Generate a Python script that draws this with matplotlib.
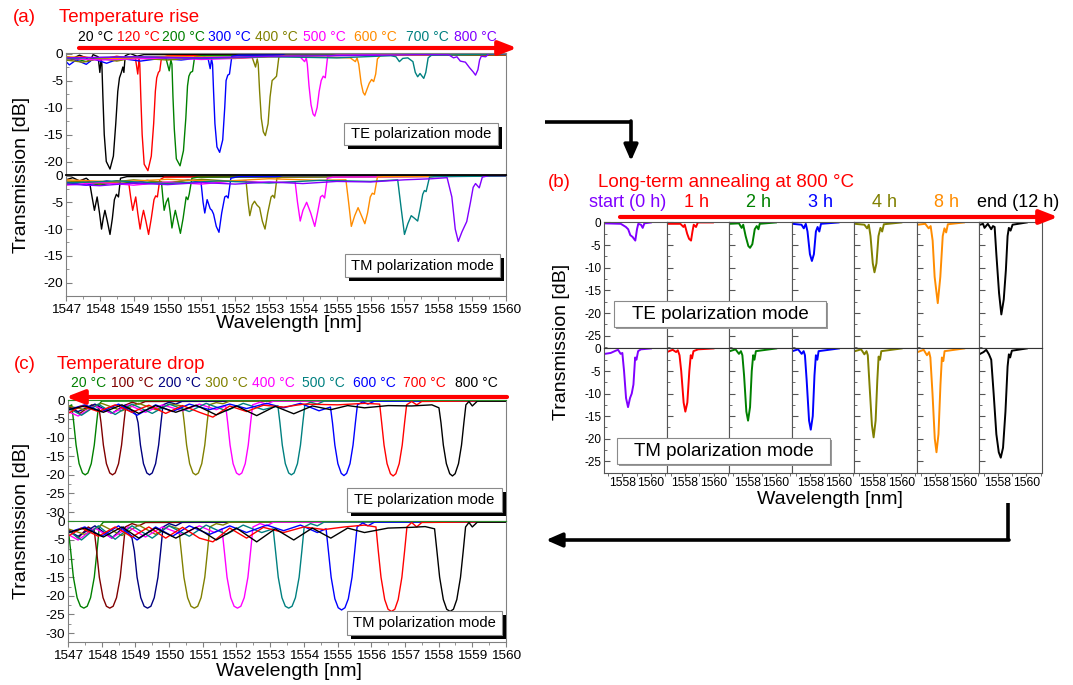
import matplotlib
matplotlib.use('Agg')
import matplotlib.pyplot as plt
from matplotlib.patches import Rectangle
from matplotlib.ticker import MultipleLocator, FormatStrFormatter

plt.rcParams['font.family'] = ['Liberation Sans', 'DejaVu Sans']
plt.rcParams['axes.unicode_minus'] = False

W, H = 1073, 685

# ---------------- (a) temperature rise ----------------
rise_labels = ['20 °C', '120 °C', '200 °C', '300 °C', '400 °C', '500 °C', '600 °C', '700 °C', '800 °C']
rise_colors = ['black', '#ff0000', '#008000', '#0000ff', '#808000', '#ff00ff', '#ff8c00', '#008080', '#8000ff']
# (wavelength nm, transmission dB)
rise_te = [
    [(1547.0, -0.5), (1547.2, -0.9), (1547.4, -0.3), (1547.6, -0.8), (1547.7, -1.5), (1547.8, -0.2), (1547.95, -0.6),
     (1548.00, -3.5), (1548.04, -0.8), (1548.06, -2), (1548.09, -8), (1548.13, -15), (1548.19, -20), (1548.30, -21.4),
     (1548.40, -19), (1548.47, -13), (1548.53, -7), (1548.58, -4.5), (1548.63, -3.6), (1548.68, -2.5), (1548.71, -3.5),
     (1548.75, -0.4), (1548.9, 0.0), (1549.1, -0.5), (1549.3, -0.2), (1560.0, -0.1)],
    [(1547.0, -1.0), (1547.5, -0.6), (1548.0, -1.1), (1548.5, -0.5), (1548.9, -0.9), (1549.05, -0.8), (1549.12, -3.8),
     (1549.16, -1.0), (1549.18, -2), (1549.21, -8), (1549.25, -15), (1549.31, -20.5), (1549.42, -21.7), (1549.52, -19),
     (1549.59, -13), (1549.64, -7), (1549.68, -4.5), (1549.73, -3.5), (1549.77, -3.2), (1549.82, -0.8), (1550.0, -0.4),
     (1560.0, -0.3)],
    [(1547.0, -1.3), (1547.3, -1.0), (1547.6, -1.5), (1548.0, -0.8), (1548.5, -1.2), (1549.0, -0.7), (1549.5, -1.0),
     (1549.95, -0.8), (1550.05, -3.2), (1550.10, -1.2), (1550.13, -2), (1550.16, -8), (1550.20, -14), (1550.26, -19.5),
     (1550.37, -20.8), (1550.47, -18), (1550.54, -12), (1550.59, -6), (1550.63, -4.2), (1550.68, -3.5), (1550.74, -3.3),
     (1550.80, -0.6), (1551.0, -0.4), (1560.0, -0.2)],
    [(1547.0, -1.5), (1547.1, -2.1), (1547.3, -1.2), (1547.6, -2.0), (1547.8, -1.0), (1548.2, -1.8), (1548.6, -0.9),
     (1549.2, -1.4), (1549.8, -0.9), (1550.4, -1.2), (1551.1, -0.7), (1551.20, -1.0), (1551.26, -2.8), (1551.30, -1.0),
     (1551.33, -2), (1551.36, -7), (1551.40, -13), (1551.46, -17.3), (1551.54, -18.3), (1551.63, -16), (1551.69, -10),
     (1551.73, -5), (1551.78, -4), (1551.83, -3.8), (1551.90, -0.5), (1552.1, -0.3), (1560.0, -0.1)],
    [(1547.0, -1.2), (1547.5, -1.6), (1548.0, -0.9), (1548.5, -1.4), (1549.0, -0.8), (1550.0, -1.2), (1551.0, -0.7),
     (1552.0, -0.9), (1552.50, -0.7), (1552.60, -2.5), (1552.65, -1.0), (1552.68, -2), (1552.72, -7), (1552.77, -12),
     (1552.83, -14.5), (1552.89, -15.2), (1552.97, -13), (1553.03, -8), (1553.09, -5), (1553.16, -4.6), (1553.22, -4.2),
     (1553.29, -0.6), (1553.5, -0.3), (1560.0, -0.2)],
    [(1547.0, -0.9), (1548.0, -1.2), (1549.0, -1.0), (1550.0, -0.8), (1551.0, -1.1), (1552.0, -0.9), (1553.0, -0.6),
     (1553.9, -0.5), (1554.05, -1.5), (1554.10, -0.8), (1554.13, -2), (1554.18, -6), (1554.24, -9.5), (1554.30, -11.2),
     (1554.35, -11.6), (1554.42, -10), (1554.48, -7), (1554.54, -5), (1554.60, -4.2), (1554.66, -4.5), (1554.73, -0.5),
     (1555.0, -0.3), (1560.0, -0.1)],
    [(1547.0, -0.6), (1548.5, -0.9), (1550.0, -0.5), (1552.0, -0.8), (1553.5, -0.5), (1555.4, -0.8), (1555.55, -1.5),
     (1555.60, -0.8), (1555.65, -2), (1555.72, -5.5), (1555.78, -7.2), (1555.83, -7.7), (1555.90, -6.5), (1555.96, -5.5),
     (1556.03, -4.8), (1556.09, -5.2), (1556.15, -3.8), (1556.20, -1.0), (1556.30, -0.3), (1560.0, -0.1)],
    [(1547.0, -0.9), (1549.0, -0.6), (1551.0, -0.9), (1553.0, -0.6), (1555.0, -0.8), (1556.6, -0.4), (1556.75, -0.6),
     (1556.85, -1.5), (1556.95, -0.9), (1557.10, -0.8), (1557.25, -1.5), (1557.32, -3.5), (1557.39, -4.3), (1557.46, -3.7),
     (1557.52, -4.2), (1557.57, -4.6), (1557.63, -3.5), (1557.70, -0.8), (1557.8, -0.3), (1560.0, -0.1)],
    [(1547.0, -0.8), (1549.0, -0.6), (1551.0, -0.8), (1553.0, -0.5), (1555.0, -0.4), (1557.5, -0.2), (1558.3, -0.2),
     (1558.45, -0.8), (1558.55, -0.6), (1558.65, -1.4), (1558.80, -1.6), (1558.92, -2.6), (1559.03, -3.4), (1559.10, -4.0),
     (1559.17, -3.0), (1559.22, -1.2), (1559.27, -0.5), (1559.40, -0.6), (1559.5, 0.0), (1560.0, 0.0)],
]
rise_tm = [
    [(1547.0, -0.8), (1547.2, -0.4), (1547.4, -1.0), (1547.6, -0.5), (1547.69, -1.0), (1547.77, -4), (1547.84, -6.5),
     (1547.92, -4), (1547.99, -7), (1548.05, -10), (1548.10, -8), (1548.15, -6.5), (1548.22, -8.5), (1548.30, -11),
     (1548.37, -8), (1548.43, -4.5), (1548.49, -3.5), (1548.55, -4), (1548.61, -0.5), (1548.8, -0.2), (1560.0, 0.0)],
    [(1547.0, -1.5), (1547.5, -0.9), (1548.0, -1.6), (1548.5, -1.0), (1548.85, -1.2), (1548.91, -4), (1548.97, -6.5),
     (1549.06, -4), (1549.12, -7), (1549.19, -10), (1549.24, -8), (1549.29, -6.5), (1549.36, -8.5), (1549.44, -11),
     (1549.52, -8), (1549.60, -4.5), (1549.65, -3.8), (1549.70, -4), (1549.77, -0.8), (1549.9, -0.3), (1560.0, -0.1)],
    [(1547.0, -1.7), (1547.5, -1.2), (1548.0, -1.8), (1548.6, -1.1), (1549.2, -1.6), (1549.82, -1.2), (1549.86, -4),
     (1549.90, -6.5), (1549.96, -5), (1550.02, -4.2), (1550.08, -7), (1550.13, -9.8), (1550.18, -8), (1550.23, -6.5),
     (1550.30, -8.5), (1550.38, -10.8), (1550.46, -8), (1550.55, -4), (1550.60, -4.5), (1550.64, -3.5), (1550.72, -0.5),
     (1550.9, -0.3), (1560.0, -0.1)],
    [(1547.0, -1.2), (1547.6, -1.8), (1548.2, -1.0), (1548.8, -1.6), (1549.4, -0.9), (1550.0, -1.5), (1550.6, -0.8),
     (1550.99, -1.3), (1551.05, -5), (1551.10, -7), (1551.17, -4.5), (1551.26, -6.2), (1551.31, -6.5), (1551.36, -7.2),
     (1551.44, -9.5), (1551.52, -10.6), (1551.60, -7), (1551.69, -4), (1551.74, -3.8), (1551.79, -4.2), (1551.87, -0.5),
     (1552.1, -0.2), (1560.0, -0.1)],
    [(1547.0, -1.0), (1548.0, -1.5), (1549.0, -0.8), (1550.0, -1.3), (1551.0, -0.7), (1552.0, -1.1), (1552.32, -1.0),
     (1552.38, -5), (1552.43, -7.5), (1552.50, -5.5), (1552.57, -4.8), (1552.64, -5.5), (1552.72, -6), (1552.80, -8.5),
     (1552.88, -10), (1552.96, -7), (1553.06, -4), (1553.11, -3.7), (1553.16, -4.2), (1553.23, -0.5), (1553.4, -0.3),
     (1560.0, -0.1)],
    [(1547.0, -1.8), (1548.0, -1.3), (1549.0, -1.8), (1550.0, -1.2), (1551.0, -1.6), (1552.0, -1.0), (1553.0, -1.3),
     (1553.77, -1.2), (1553.84, -5), (1553.92, -8.5), (1554.00, -6.5), (1554.11, -5), (1554.23, -7), (1554.35, -9.5),
     (1554.43, -7), (1554.52, -4), (1554.58, -3.7), (1554.64, -4.2), (1554.72, -0.5), (1554.9, -0.3), (1560.0, -0.1)],
    [(1547.0, -0.8), (1548.5, -1.2), (1550.0, -0.7), (1551.5, -1.1), (1553.0, -0.6), (1554.5, -0.9), (1555.27, -0.8),
     (1555.35, -5), (1555.43, -9.5), (1555.53, -7.5), (1555.63, -6), (1555.73, -7.5), (1555.83, -9), (1555.91, -7),
     (1555.99, -4), (1556.05, -3.3), (1556.11, -3.5), (1556.20, -0.3), (1556.4, -0.2), (1560.0, -0.1)],
    [(1547.0, -1.4), (1548.5, -1.0), (1550.0, -1.5), (1551.5, -1.0), (1553.0, -1.4), (1554.5, -0.9), (1556.0, -1.1),
     (1556.80, -0.8), (1556.90, -6), (1557.00, -11), (1557.10, -9), (1557.20, -7.5), (1557.30, -8), (1557.39, -8.5),
     (1557.47, -6), (1557.54, -3.5), (1557.59, -2.8), (1557.64, -3), (1557.74, -0.3), (1557.9, -0.2), (1560.0, -0.1)],
    [(1547.0, -1.6), (1548.0, -1.9), (1549.0, -1.4), (1550.0, -1.7), (1551.0, -1.3), (1552.0, -1.6), (1553.0, -1.2),
     (1554.0, -1.5), (1555.0, -1.1), (1556.0, -1.2), (1557.0, -0.8), (1557.8, -0.6), (1558.26, -0.4), (1558.40, -4),
     (1558.50, -10), (1558.59, -12.3), (1558.70, -10.5), (1558.84, -8.6), (1558.95, -5), (1559.03, -2.2), (1559.10, -1.5),
     (1559.21, -2.3), (1559.30, -0.3), (1559.5, 0.0), (1560.0, 0.0)],
]

# ---------------- (b) long-term annealing at 800 C ----------------
anneal_labels = ['start (0 h)', '1 h', '2 h', '3 h', '4 h', '8 h', 'end (12 h)']
anneal_colors = ['#8000ff', '#ff0000', '#008000', '#0000ff', '#808000', '#ff8c00', 'black']
anneal_te = [
    [(1556.75, -0.2), (1557.88, -0.3), (1558.24, -1.0), (1558.40, -1.5), (1558.55, -2.8), (1558.71, -3.2),
     (1558.90, -4.0), (1559.02, -1.5), (1559.11, -0.3), (1559.30, -0.5), (1559.42, -1.2), (1559.54, -0.2), (1560.00, 0.0)],
    [(1556.72, -0.3), (1557.67, -0.3), (1557.89, -1.0), (1557.98, -0.5), (1558.15, -2.5), (1558.28, -3.6),
     (1558.42, -4.0), (1558.52, -2.0), (1558.61, -0.5), (1558.77, -1.0), (1558.90, 0.0), (1559.96, 0.0)],
    [(1556.75, -0.3), (1557.39, -0.2), (1557.58, -1.2), (1557.69, -0.5), (1557.86, -3.0), (1558.05, -5.2),
     (1558.17, -5.6), (1558.33, -4.8), (1558.50, -1.5), (1558.64, -0.8), (1558.76, -1.5), (1558.85, -0.3), (1559.99, 0.0)],
    [(1556.75, -0.3), (1557.39, -0.5), (1557.55, -1.3), (1557.69, -0.3), (1557.81, -2.0), (1557.98, -7.0),
     (1558.12, -8.5), (1558.26, -7.0), (1558.40, -2.0), (1558.52, -1.0), (1558.64, -2.0), (1558.76, -0.3), (1559.99, 0.0)],
    [(1556.75, -0.3), (1557.41, -0.5), (1557.60, -1.3), (1557.72, -0.5), (1557.84, -3.0), (1558.00, -9.0),
     (1558.12, -11.0), (1558.26, -9.0), (1558.40, -3.0), (1558.54, -1.2), (1558.66, -2.0), (1558.78, -0.4), (1560.01, 0.0)],
    [(1556.75, -0.5), (1557.29, -0.3), (1557.53, -1.3), (1557.67, -0.8), (1557.81, -4.0), (1557.95, -12.0),
     (1558.17, -17.8), (1558.35, -12.0), (1558.52, -3.0), (1558.64, -1.3), (1558.76, -2.2), (1558.88, -0.4), (1560.01, 0.0)],
    [(1556.75, -0.5), (1556.95, -0.3), (1557.06, -1.2), (1557.29, -0.3), (1557.53, -1.5), (1557.65, -0.8),
     (1557.77, -1.0), (1557.89, -7.0), (1558.08, -15.6), (1558.24, -20.3), (1558.41, -17.0), (1558.56, -10.5),
     (1558.68, -3.0), (1558.77, -1.2), (1558.89, -1.8), (1559.03, -0.5), (1560.03, 0.0)],
]
anneal_tm = [
    [(1556.75, -1.2), (1557.17, -1.0), (1557.52, -0.5), (1557.69, -0.3), (1557.87, -1.2), (1557.99, -1.0),
     (1558.11, -5.0), (1558.25, -11.0), (1558.39, -13.0), (1558.53, -11.0), (1558.65, -10.0), (1558.77, -8.0),
     (1558.89, -2.0), (1558.98, -2.5), (1559.10, -0.6), (1559.29, -0.2), (1560.00, 0.0)],
    [(1556.72, -0.8), (1557.13, -0.3), (1557.37, -0.8), (1557.49, -0.4), (1557.61, -1.5), (1557.73, -5.0),
     (1557.90, -12.0), (1558.02, -14.0), (1558.16, -12.0), (1558.30, -5.0), (1558.40, -1.5), (1558.49, -2.2),
     (1558.59, -0.6), (1558.92, -0.2), (1560.00, 0.0)],
    [(1556.75, -0.6), (1557.15, -0.2), (1557.39, -1.2), (1557.53, -0.6), (1557.63, -1.5), (1557.75, -6.0),
     (1557.91, -14.0), (1558.03, -16.0), (1558.17, -13.0), (1558.29, -5.0), (1558.39, -1.5), (1558.48, -2.5),
     (1558.58, -0.6), (1560.01, 0.0)],
    [(1556.75, -0.6), (1557.15, -0.2), (1557.40, -1.2), (1557.54, -0.6), (1557.63, -1.5), (1557.75, -7.0),
     (1557.92, -16.0), (1558.04, -18.0), (1558.18, -15.0), (1558.30, -6.0), (1558.40, -1.5), (1558.50, -2.5),
     (1558.59, -0.6), (1560.02, 0.0)],
    [(1556.75, -0.6), (1557.18, -0.2), (1557.41, -1.3), (1557.56, -0.6), (1557.65, -1.5), (1557.77, -8.0),
     (1557.94, -17.0), (1558.06, -19.7), (1558.20, -16.0), (1558.32, -7.0), (1558.41, -1.8), (1558.51, -2.5),
     (1558.60, -0.6), (1560.03, 0.0)],
    [(1556.75, -0.8), (1557.18, -0.3), (1557.41, -1.5), (1557.56, -0.8), (1557.65, -2.0), (1557.80, -10.0),
     (1557.96, -20.0), (1558.08, -23.0), (1558.22, -19.0), (1558.36, -8.0), (1558.46, -2.0), (1558.56, -2.8),
     (1558.65, -0.6), (1560.03, 0.0)],
    [(1556.75, -1.2), (1556.99, -0.8), (1557.18, -0.3), (1557.37, -1.3), (1557.53, -2.5), (1557.70, -10.0),
     (1557.89, -19.0), (1558.06, -23.0), (1558.20, -24.2), (1558.36, -22.0), (1558.53, -14.0), (1558.68, -4.0),
     (1558.77, -1.3), (1558.86, -2.0), (1558.98, -0.5), (1560.03, 0.0)],
]

# ---------------- (c) temperature drop ----------------
drop_labels = ['20 °C', '100 °C', '200 °C', '300 °C', '400 °C', '500 °C', '600 °C', '700 °C', '800 °C']
drop_colors = ['#008000', '#800000', '#000080', '#808000', '#ff00ff', '#008080', '#0000ff', '#ff0000', 'black']
drop_te = [
    [(1547.0, -2.5), (1547.05, -1.5), (1547.11, -1.2), (1547.17, -6), (1547.24, -12), (1547.33, -17), (1547.43, -19.5),
     (1547.51, -20), (1547.59, -19.5), (1547.69, -17), (1547.78, -12), (1547.85, -6), (1547.91, -1.2), (1548.0, -0.2),
     (1560.0, 0.0)],
    [(1547.0, -1.5), (1547.35, -3.5), (1547.7, -1.2), (1547.92, -2.0), (1547.98, -6), (1548.05, -12), (1548.14, -17),
     (1548.24, -19.5), (1548.32, -20), (1548.40, -19.5), (1548.50, -17), (1548.59, -12), (1548.66, -6), (1548.72, -1.2),
     (1548.9, -0.5), (1549.1, -1.0), (1549.3, -0.3), (1560.0, -0.1)],
    [(1547.0, -2.0), (1547.3, -3.0), (1547.8, -1.0), (1548.3, -3.5), (1548.7, -1.2), (1549.02, -3.8), (1549.08, -6),
     (1549.15, -12), (1549.24, -17), (1549.34, -19.5), (1549.42, -20), (1549.50, -19.5), (1549.60, -17), (1549.69, -12),
     (1549.76, -6), (1549.82, -1.2), (1550.0, -0.5), (1550.2, -1.0), (1550.4, -0.2), (1560.0, -0.1)],
    [(1547.0, -1.5), (1547.5, -2.5), (1548.0, -0.8), (1548.6, -2.8), (1549.1, -0.8), (1549.6, -2.5), (1550.05, -1.0),
     (1550.39, -1.5), (1550.45, -6), (1550.52, -12), (1550.61, -17), (1550.71, -19.5), (1550.79, -20), (1550.87, -19.5),
     (1550.97, -17), (1551.06, -12), (1551.13, -6), (1551.19, -1.2), (1551.4, -0.6), (1551.6, -0.9), (1551.8, -0.2),
     (1560.0, -0.1)],
    [(1547.0, -3.0), (1547.3, -4.2), (1547.8, -1.5), (1548.3, -3.5), (1548.8, -1.2), (1549.3, -3.2), (1549.8, -1.2),
     (1550.4, -2.8), (1550.9, -1.0), (1551.4, -2.5), (1551.68, -1.5), (1551.74, -6), (1551.81, -12), (1551.90, -17),
     (1552.00, -19.5), (1552.08, -20), (1552.16, -19.5), (1552.26, -17), (1552.35, -12), (1552.42, -6), (1552.48, -1.2),
     (1552.7, -0.5), (1552.9, -1.0), (1553.1, -0.2), (1560.0, -0.1)],
    [(1547.0, -2.0), (1547.4, -4.0), (1547.9, -1.0), (1548.4, -3.8), (1548.9, -1.0), (1549.5, -3.5), (1550.0, -1.0),
     (1550.6, -3.0), (1551.1, -0.8), (1551.7, -2.8), (1552.2, -0.8), (1552.8, -2.5), (1553.23, -1.5), (1553.29, -6),
     (1553.36, -12), (1553.45, -17), (1553.55, -19.5), (1553.63, -20), (1553.71, -19.5), (1553.81, -17), (1553.90, -12),
     (1553.97, -6), (1554.03, -1.2), (1554.2, -0.5), (1554.4, -1.0), (1554.6, -0.2), (1560.0, -0.1)],
    [(1547.0, -2.5), (1547.5, -1.2), (1548.0, -3.0), (1548.5, -1.0), (1549.05, -4.0), (1549.6, -1.2), (1550.1, -3.0),
     (1550.6, -1.0), (1551.2, -2.5), (1551.8, -1.0), (1552.3, -2.2), (1552.9, -0.8), (1553.4, -2.0), (1553.9, -0.8),
     (1554.45, -2.8), (1554.79, -1.8), (1554.85, -6), (1554.92, -12), (1555.01, -17), (1555.11, -19.6), (1555.19, -20.2),
     (1555.27, -19.6), (1555.37, -17), (1555.46, -12), (1555.53, -6), (1555.59, -1.2), (1555.75, -0.4), (1555.9, -1.0),
     (1556.1, -0.2), (1560.0, -0.1)],
    [(1547.0, -3.5), (1547.4, -1.5), (1547.9, -3.0), (1548.4, -1.2), (1548.9, -3.2), (1549.4, -1.3), (1549.9, -3.5),
     (1550.4, -1.4), (1550.9, -3.2), (1551.3, -4.5), (1551.8, -1.5), (1552.3, -3.0), (1552.8, -1.3), (1553.4, -1.8),
     (1554.0, -1.0), (1555.0, -1.2), (1555.8, -0.8), (1556.25, -1.0), (1556.31, -6), (1556.38, -12), (1556.47, -17),
     (1556.57, -19.7), (1556.65, -20.3), (1556.73, -19.7), (1556.83, -17), (1556.92, -12), (1556.99, -6), (1557.05, -1.2),
     (1557.2, -0.3), (1557.35, -1.2), (1557.5, -0.3), (1560.0, -0.1)],
    [(1547.0, -2.5), (1547.5, -1.5), (1548.05, -3.2), (1548.6, -1.2), (1549.1, -3.5), (1549.6, -1.4), (1550.2, -3.2),
     (1550.8, -1.3), (1551.4, -3.9), (1552.0, -1.5), (1552.6, -4.1), (1553.15, -1.6), (1553.7, -3.6), (1554.25, -1.5),
     (1554.8, -2.5), (1555.3, -1.4), (1555.8, -2.0), (1556.5, -1.4), (1557.2, -1.5), (1557.8, -1.2), (1558.01, -2.0),
     (1558.07, -6), (1558.14, -12), (1558.23, -17), (1558.33, -19.7), (1558.41, -20.3), (1558.49, -19.7), (1558.59, -17),
     (1558.68, -12), (1558.75, -6), (1558.81, -1.2), (1558.9, -0.3), (1559.0, -1.5), (1559.15, -0.2), (1560.0, -0.2)],
]
drop_tm = [
    [(1547.0, -1.5), (1547.08, -8), (1547.16, -15), (1547.27, -20.5), (1547.37, -22.8), (1547.47, -23.3),
     (1547.57, -22.8), (1547.67, -20.5), (1547.78, -15), (1547.86, -8), (1547.93, -1.5), (1548.05, -0.2), (1560.0, 0.0)],
    [(1547.0, -2.0), (1547.3, -4.5), (1547.6, -1.5), (1547.78, -2.5), (1547.85, -8), (1547.93, -15), (1548.04, -20.5),
     (1548.14, -22.8), (1548.24, -23.3), (1548.34, -22.8), (1548.44, -20.5), (1548.55, -15), (1548.63, -8), (1548.70, -1.5),
     (1548.9, -0.6), (1549.1, -1.2), (1549.3, -0.3), (1560.0, -0.1)],
    [(1547.0, -2.5), (1547.3, -4.0), (1547.8, -1.2), (1548.3, -4.5), (1548.65, -1.5), (1548.90, -4.5), (1548.97, -8),
     (1549.05, -15), (1549.16, -20.5), (1549.26, -22.8), (1549.36, -23.3), (1549.46, -22.8), (1549.56, -20.5),
     (1549.67, -15), (1549.75, -8), (1549.82, -1.5), (1550.0, -0.6), (1550.2, -1.2), (1550.4, -0.2), (1560.0, -0.1)],
    [(1547.0, -2.0), (1547.5, -3.5), (1548.0, -1.0), (1548.6, -3.8), (1549.1, -1.0), (1549.6, -3.5), (1550.0, -1.2),
     (1550.29, -2.0), (1550.36, -8), (1550.44, -15), (1550.55, -20.5), (1550.65, -22.8), (1550.75, -23.3),
     (1550.85, -22.8), (1550.95, -20.5), (1551.06, -15), (1551.14, -8), (1551.21, -1.5), (1551.4, -0.6), (1551.6, -1.0),
     (1551.8, -0.2), (1560.0, -0.1)],
    [(1547.0, -3.5), (1547.3, -5.0), (1547.8, -1.8), (1548.3, -4.5), (1548.8, -1.5), (1549.3, -4.2), (1549.8, -1.5),
     (1550.4, -3.5), (1550.9, -1.2), (1551.35, -3.0), (1551.57, -2.0), (1551.64, -8), (1551.72, -15), (1551.83, -20.5),
     (1551.93, -22.8), (1552.03, -23.3), (1552.13, -22.8), (1552.23, -20.5), (1552.34, -15), (1552.42, -8),
     (1552.49, -1.5), (1552.7, -0.6), (1552.9, -1.2), (1553.1, -0.2), (1560.0, -0.1)],
    [(1547.0, -2.5), (1547.4, -5.0), (1547.9, -1.2), (1548.4, -4.8), (1548.9, -1.2), (1549.5, -4.5), (1550.0, -1.2),
     (1550.6, -4.0), (1551.1, -1.0), (1551.7, -3.5), (1552.2, -1.0), (1552.75, -3.0), (1553.09, -2.0), (1553.16, -8),
     (1553.24, -15), (1553.35, -20.5), (1553.45, -22.8), (1553.55, -23.3), (1553.65, -22.8), (1553.75, -20.5),
     (1553.86, -15), (1553.94, -8), (1554.01, -1.5), (1554.2, -0.6), (1554.4, -1.2), (1554.6, -0.2), (1560.0, -0.1)],
    [(1547.0, -3.0), (1547.5, -1.5), (1548.0, -4.0), (1548.5, -1.2), (1549.05, -5.0), (1549.6, -1.5), (1550.1, -4.0),
     (1550.6, -1.2), (1551.2, -3.5), (1551.8, -1.2), (1552.3, -3.0), (1552.9, -1.0), (1553.4, -2.5), (1553.9, -1.0),
     (1554.4, -3.0), (1554.66, -2.0), (1554.73, -8), (1554.81, -15), (1554.92, -20.8), (1555.02, -23.2), (1555.12, -23.8),
     (1555.22, -23.2), (1555.32, -20.8), (1555.43, -15), (1555.51, -8), (1555.58, -1.5), (1555.75, -0.4), (1555.9, -1.2),
     (1556.1, -0.2), (1560.0, -0.1)],
    [(1547.0, -4.0), (1547.4, -1.8), (1547.9, -4.0), (1548.4, -1.5), (1548.9, -4.2), (1549.4, -1.5), (1549.9, -4.5),
     (1550.4, -1.6), (1550.9, -4.5), (1551.3, -5.5), (1551.8, -1.8), (1552.3, -4.5), (1552.8, -1.6), (1553.4, -3.0),
     (1554.0, -1.5), (1554.6, -2.2), (1555.2, -1.5), (1555.8, -1.0), (1556.14, -1.5), (1556.21, -8), (1556.29, -15),
     (1556.40, -21), (1556.50, -23.6), (1556.60, -24.2), (1556.70, -23.6), (1556.80, -21), (1556.91, -15), (1556.99, -8),
     (1557.06, -1.5), (1557.2, -0.3), (1557.35, -1.5), (1557.5, -0.3), (1560.0, -0.1)],
    [(1547.0, -3.0), (1547.5, -1.8), (1548.05, -4.2), (1548.6, -1.5), (1549.1, -4.5), (1549.6, -1.8), (1550.2, -4.5),
     (1550.8, -1.6), (1551.4, -5.0), (1552.0, -1.8), (1552.6, -5.5), (1553.15, -2.0), (1553.7, -5.0), (1554.25, -1.8),
     (1554.8, -4.5), (1555.3, -1.8), (1555.8, -3.0), (1556.5, -1.8), (1557.2, -1.6), (1557.6, -1.4), (1557.88, -2.0),
     (1557.95, -8), (1558.03, -15), (1558.14, -21), (1558.24, -23.6), (1558.34, -24.2), (1558.44, -23.6), (1558.54, -21),
     (1558.65, -15), (1558.73, -8), (1558.80, -1.5), (1558.9, -0.3), (1559.0, -1.5), (1559.15, -0.2), (1560.0, -0.2)],
]

# ---------------- layout helpers (pixel coordinates) ----------------
fig = plt.figure(figsize=(W / 100, H / 100), dpi=100)
EDGE = '#808080'


def px_axes(x0, y0, x1, y1):
    return fig.add_axes([x0 / W, 1 - y1 / H, (x1 - x0) / W, (y1 - y0) / H])


def draw(ax, pts, color, lw=1.0):
    xs, ys = zip(*pts)
    ax.plot(xs, ys, color=color, lw=lw)


def style(ax, xlim, ylim, xmaj, ylab=True, xlab=True, ysize=9.7, xsize=9.7, xpad=2, edge=EDGE):
    ax.set_xlim(*xlim)
    ax.set_ylim(*ylim)
    for s in ax.spines.values():
        s.set_color(edge)
    ax.yaxis.set_major_locator(MultipleLocator(5))
    ax.yaxis.set_minor_locator(MultipleLocator(2.5))
    ax.yaxis.set_major_formatter(FormatStrFormatter('%d'))
    ax.tick_params(axis='y', which='major', direction='in', length=4, color=edge,
                   labelsize=ysize, pad=2, labelleft=ylab)
    ax.tick_params(axis='y', which='minor', direction='in', length=2, color=edge)
    if xlab:
        ax.xaxis.set_major_locator(MultipleLocator(xmaj))
        ax.xaxis.set_minor_locator(MultipleLocator(xmaj / 2))
        ax.xaxis.set_major_formatter(FormatStrFormatter('%d'))
        ax.tick_params(axis='x', which='major', direction='out', length=3.5, color=edge,
                       labelsize=xsize, pad=xpad)
        ax.tick_params(axis='x', which='minor', direction='out', length=2, color=edge)
    else:
        ax.set_xticks([])


# ---------------- panel (a) ----------------
a_te = px_axes(66, 53, 506, 175)
a_tm = px_axes(66, 175, 506, 296)
for pts, c in zip(rise_te, rise_colors):
    draw(a_te, pts, c)
for pts, c in zip(rise_tm, rise_colors):
    draw(a_tm, pts, c)
style(a_te, (1547, 1560), (-22.5, 0.1), 1, xlab=False)
style(a_tm, (1547, 1560), (-22.5, 0.1), 1)
a_tm.spines['top'].set_color('black')
a_tm.spines['top'].set_linewidth(1.3)

# ---------------- panel (c) ----------------
c_te = px_axes(68, 400, 506, 521)
c_tm = px_axes(68, 521, 506, 642)
for pts, c in zip(drop_te, drop_colors):
    draw(c_te, pts, c)
for pts, c in zip(drop_tm, drop_colors):
    draw(c_tm, pts, c)
style(c_te, (1547, 1560), (-32.4, 0.1), 1, xlab=False)
style(c_tm, (1547, 1560), (-32.4, 0.1), 1)
c_te.spines['top'].set_color('#2a8a2a')
c_tm.spines['top'].set_color('#2a8a2a')

# ---------------- panel (b) ----------------
col_w = (1042 - 604) / 7
for k in range(7):
    x0 = 604 + k * col_w
    b_te = px_axes(x0, 222, x0 + col_w, 348)
    b_tm = px_axes(x0, 348, x0 + col_w, 473)
    draw(b_te, anneal_te[k], anneal_colors[k], lw=1.4)
    draw(b_tm, anneal_tm[k], anneal_colors[k], lw=1.4)
    style(b_te, (1556.7, 1561.1), (-27.7, 0.1), 2, ylab=(k == 0), xlab=False, ysize=8.5, edge='#555555')
    style(b_tm, (1556.7, 1561.1), (-27.6, 0.1), 2, ylab=(k == 0), ysize=8.5, xsize=8.8, xpad=1, edge='#555555')
    b_tm.tick_params(axis='x', which='both', length=2)
    b_tm.spines['top'].set_color('#333333')

# ---------------- overlay: titles, arrows, boxes ----------------
ov = fig.add_axes([0, 0, 1, 1], zorder=10)
ov.set_xlim(0, W)
ov.set_ylim(H, 0)
ov.axis('off')
ov.patch.set_alpha(0)

TITLE = 13.5
ov.text(13, 17, '(a)', color='red', fontsize=TITLE, va='center')
ov.text(59, 17, 'Temperature rise', color='red', fontsize=TITLE, va='center')
ov.text(14, 364, '(c)', color='red', fontsize=TITLE, va='center')
ov.text(57, 364, 'Temperature drop', color='red', fontsize=TITLE, va='center')
ov.text(548, 182, '(b)', color='red', fontsize=TITLE, va='center')
ov.text(598, 182, 'Long-term annealing at 800 °C', color='red', fontsize=TITLE, va='center')

rise_label_x = [96, 138, 183, 229, 276, 324, 375, 427, 475]
for s, c, x in zip(rise_labels, rise_colors, rise_label_x):
    ov.text(x, 37, s, color=c, fontsize=10, ha='center', va='center')
drop_label_x = [89, 132, 179, 226, 273, 323, 374, 424, 476]
for s, c, x in zip(drop_labels, drop_colors, drop_label_x):
    ov.text(x, 383, s, color=c, fontsize=10, ha='center', va='center')
anneal_label_x = [628, 697, 758, 820, 884, 947, 1018]
for s, c, x in zip(anneal_labels, anneal_colors, anneal_label_x):
    ov.text(x, 202, s, color=c, fontsize=13, ha='center', va='center')

red_arrow = dict(arrowstyle='-|>,head_length=0.9,head_width=0.35', color='red', lw=3.0,
                 mutation_scale=12, shrinkA=0, shrinkB=0)
ov.annotate('', xy=(517, 48), xytext=(79, 48), arrowprops=red_arrow)
ov.annotate('', xy=(1058, 217), xytext=(620, 217), arrowprops=red_arrow)
ov.annotate('', xy=(66, 397), xytext=(507, 397), arrowprops=red_arrow)

black_arrow = dict(arrowstyle='-|>,head_length=0.8,head_width=0.35', color='black', lw=2.6,
                   mutation_scale=12, shrinkA=0, shrinkB=0)
ov.plot([545, 631], [122, 122], color='black', lw=2.6, solid_capstyle='butt')
ov.annotate('', xy=(631, 161), xytext=(631, 121), arrowprops=black_arrow)
ov.plot([1008, 1008], [503, 541], color='black', lw=2.6, solid_capstyle='butt')
ov.annotate('', xy=(546, 540), xytext=(1009, 540), arrowprops=black_arrow)

# box labels with drop shadow
boxes = [
    ('TE polarization mode', (344, 123, 498, 145), 10.6, 'black', 4),
    ('TM polarization mode', (345, 254, 500, 277), 10.6, 'black', 4),
    ('TE polarization mode', (347, 488, 502, 512), 10.6, 'black', 4),
    ('TM polarization mode', (347, 611, 502, 635), 10.6, 'black', 4),
    ('TE polarization mode', (614, 301, 826, 327), 13.5, '#9a9a9a', 2),
    ('TM polarization mode', (617, 438, 830, 464), 13.5, '#9a9a9a', 2),
]
for text, (x0, y0, x1, y1), fs, shadow, off in boxes:
    ov.add_patch(Rectangle((x0 + off, y0 + off), x1 - x0, y1 - y0, facecolor=shadow, edgecolor='none'))
    ov.add_patch(Rectangle((x0, y0), x1 - x0, y1 - y0, facecolor='white', edgecolor='#8a8a8a', lw=0.8))
    ov.text((x0 + x1) / 2, (y0 + y1) / 2, text, fontsize=fs, ha='center', va='center')

# axis titles
ov.text(22, 175, 'Transmission [dB]', rotation=90, fontsize=14, ha='center', va='center')
ov.text(22, 521, 'Transmission [dB]', rotation=90, fontsize=14, ha='center', va='center')
ov.text(562, 342, 'Transmission [dB]', rotation=90, fontsize=14, ha='center', va='center')
ov.text(289, 323, 'Wavelength [nm]', fontsize=14, ha='center', va='center')
ov.text(289, 672, 'Wavelength [nm]', fontsize=14, ha='center', va='center')
ov.text(830, 499, 'Wavelength [nm]', fontsize=14, ha='center', va='center')

fig.savefig('out.png', dpi=100)
